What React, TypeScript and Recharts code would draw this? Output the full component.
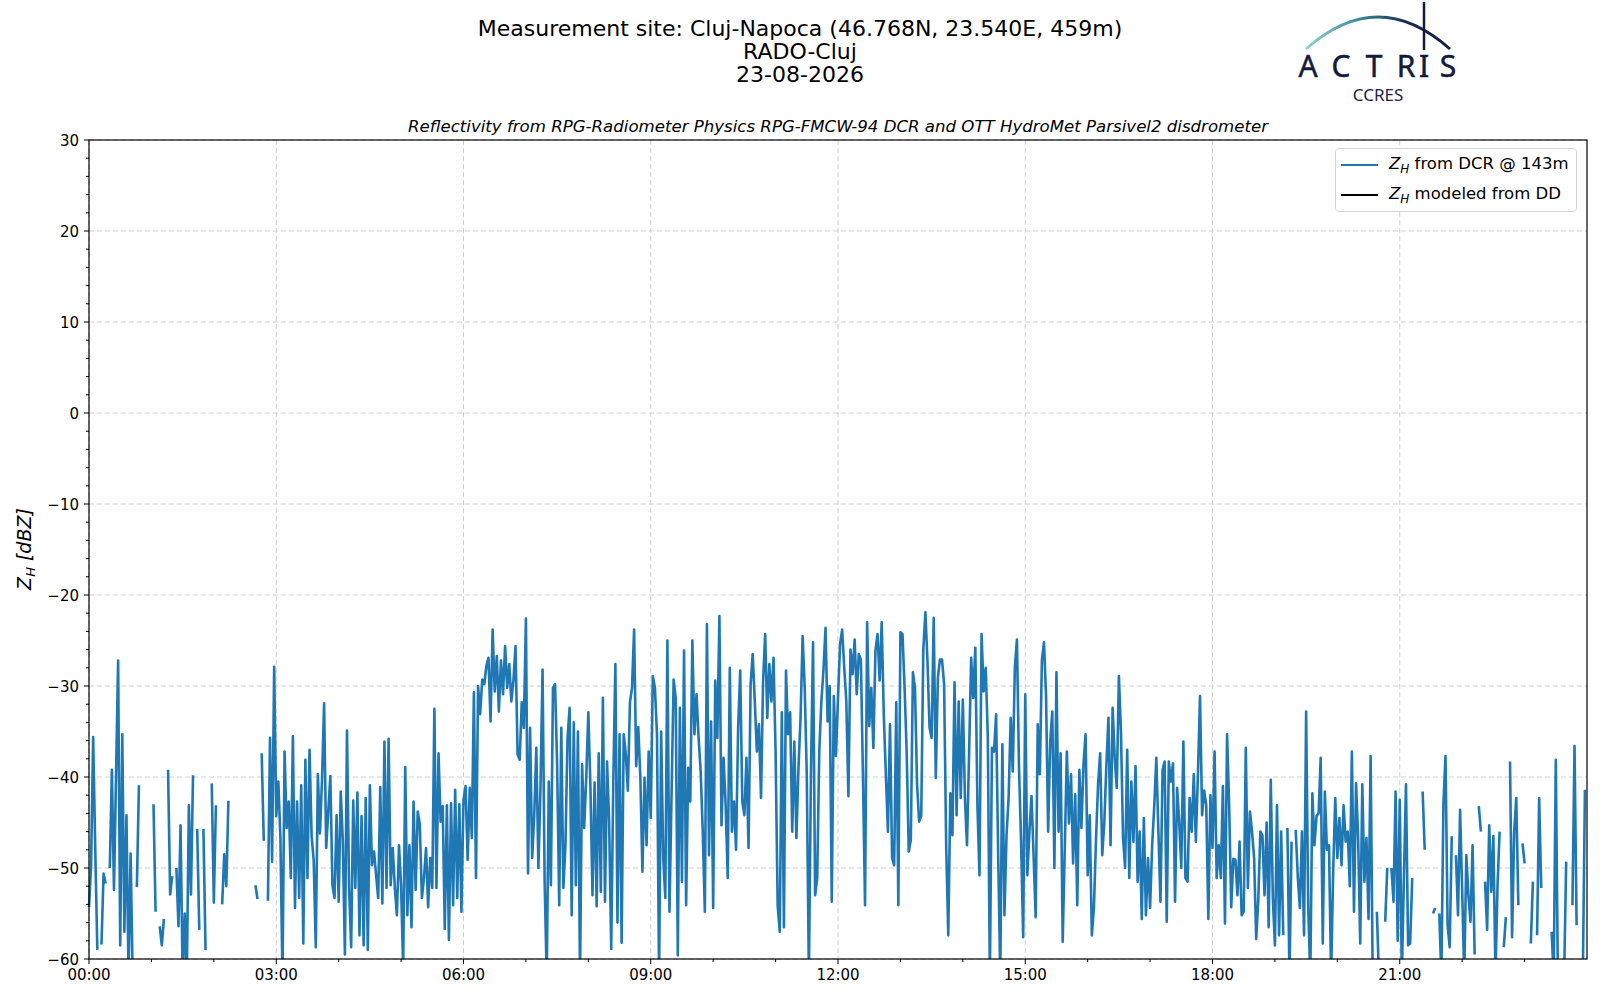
import { LineChart, Line, XAxis, YAxis, CartesianGrid } from 'recharts';

// Radar reflectivity at 143 m, one sample every 2 minutes, null = no echo
const STEP_MIN = 2;

const zh00_03 = [
  -54.3, -49.7, -35.6, -47.9, -59, null, -58.4, -50.6, -51.7, null, -50, -39.2, -52.4, -39.8, -27.2, -58.5, -35.3, -57, -44.2, -62, -48.4, -62, null, -52.1, -40.9, null, null, null, null, null,
  null, -43, -54.8, null, -56.4, -58.5, -55.6, null, -39.2, -52.9, -50.9, null, -50, -56.4, -45.3, -62, -55, -62, -43.1, -52.9, -39.8, null, -45.7, -56.8, null, -45.7, -59, null, null, -40.7,
  -53.8, -43.1, null, null, -54, -48.5, -52, -42.6, null, null, null, null, null, null, null, null, null, null, null, null, -51.9, -53.4, null, -37.4, -47, null, -53.6, -35.7, -49.3, -27.9,
];
const zh03_06 = [
  -44.3, -40.5, -46.7, -62, -37.2, -45.6, -42.7, -51.1, -35.5, -54.4, -42.7, -53.3, -40.9, -58.3, -38.1, -51.1, -37, -46.5, -49.2, -58.7, -39.7, -46.2, -40.3, -31.9, -47.8, -43.8, -39.9, -51.9, -53.3, -44.2,
  -53.7, -41.6, -47.1, -59.5, -34.9, -52.2, -58.7, -42.6, -52.2, -41.7, -57.4, -44.3, -58.5, -42.3, -59, -40.9, -49.7, -48.2, -50.8, -53.3, -41.1, -53.9, -36.1, -52.2, -35.8, -51.9, -47.8, -52.2, -55.2, -47.5,
  -51.9, -61, -38.9, -55.2, -47.5, -56.5, -42.7, -52.4, -43.8, -45.2, -53.3, -51.1, -47.8, -54.3, -48.9, -52.2, -32.5, -52.2, -37.4, -44.9, -43.2, -56.7, -43.1, -57.9, -42.9, -54.1, -41.4, -53.3, -43, -54.8,
];
const zh06_09 = [
  -42.5, -41, -49.1, -41.2, -46.7, -30.7, -51.1, -30, -33.1, -29.3, -29.8, -27.8, -26.9, -33.9, -23.8, -30.6, -26.7, -32.8, -27.2, -30.9, -25.6, -30.2, -27.6, -31.7, -29.4, -25.6, -37.5, -38.1, -31.8, -34.6,
  -22.6, -50.6, -34.6, -48.9, -44.2, -36.8, -50, -41.2, -28.2, -51.5, -62, -40.5, -51.9, -30.2, -29.8, -38.6, -54.1, -34.6, -52.2, -47.5, -35.7, -32.4, -55.2, -34, -51.9, -35, -62, -38.6, -45.6, -40,
  -32.9, -41, -53, -40.6, -54.2, -37.4, -52.6, -31.3, -53.7, -38.3, -45, -58.9, -40.5, -27.6, -56, -35.3, -58.2, -35.3, -37.5, -41.5, -31.8, -30.2, -23.8, -38.8, -34.5, -40, -50.4, -40.1, -47.5, -37.2,
];
const zh09_12 = [
  -44.5, -28.9, -30.2, -35.3, -62, -35, -48.9, -53.3, -25, -54.8, -41.9, -29.3, -31.3, -59.6, -32.4, -51.5, -26.1, -54.1, -39, -42.7, -25, -35.3, -30.9, -35.7, -39.4, -46, -54.8, -23.2, -48.6, -33.9,
  -54.4, -29.4, -35.7, -22.3, -45.3, -37.9, -43.1, -51.1, -28, -46, -42.7, -48, -34.6, -28.3, -42.7, -44.2, -37.9, -47.8, -29.8, -26.5, -31.7, -37.2, -34.2, -42.3, -29.4, -24.3, -33.5, -27.6, -31.7, -26.9,
  -37.2, -54.1, -57, -32.9, -56.5, -28.3, -35.3, -32.9, -46, -36.1, -46.7, -39, -33.5, -24.5, -30.2, -39.9, -62, -39.7, -25.2, -53, -51.1, -37.2, -31.7, -28.3, -23.6, -33.9, -30, -53.7, -31.1, -37.7,
];
const zh12_15 = [
  -31.3, -25.4, -23.8, -28, -31.7, -42.1, -26, -28.7, -24.9, -30.9, -26.5, -27.1, -40, -54.1, -23, -34.4, -30.2, -36.8, -26.1, -24.3, -29.4, -23, -33.1, -39.7, -46, -34.2, -48.9, -49.7, -31.8, -54.1,
  -24.1, -24.3, -30.2, -37.2, -48.2, -46.9, -28.5, -30.2, -40.8, -44.9, -44.3, -26, -21.9, -27.2, -34.6, -35.7, -22.5, -40.1, -29.1, -27.1, -27.1, -29.8, -47.6, -57.4, -41.8, -46.4, -29.6, -44.2, -31.7, -42.3,
  -31.5, -42.3, -47.5, -37.5, -26.9, -31.3, -25.8, -43, -50.8, -24.3, -30.6, -28, -35.5, -62, -36.8, -37.2, -33.1, -48.8, -62, -36.4, -55.2, -46.4, -42.3, -33.5, -39.4, -28, -24.9, -39, -47.1, -57.6,
];
const zh15_18 = [
  -30.9, -50.8, -46, -42.1, -48.6, -55.4, -34.2, -39.7, -27.2, -25.2, -31.1, -46, -36.1, -32.8, -50, -28.5, -46, -37.4, -58.1, -47.8, -37.2, -45.1, -39.7, -49.5, -41.9, -54.1, -39.2, -45.6, -38.6, -35.3,
  -50.8, -44.2, -57.4, -54.4, -46.9, -40.8, -37.4, -48.6, -45, -38.6, -33.5, -47.5, -32.4, -37.9, -41.2, -28.9, -35, -46.7, -50, -37, -51.1, -40.5, -47.1, -38.8, -51.5, -46, -55.6, -44.5, -55.2, -48.9,
  -54.4, -47.5, -43.2, -37.9, -46, -53.7, -39.2, -38.3, -55.9, -38.3, -40.5, -38.5, -53.7, -41.2, -44.9, -50, -36.1, -51.1, -51.5, -42.3, -46, -39.7, -47.1, -39.7, -31.1, -44.2, -41.5, -43.1, -55.6, -42,
];
const zh18_21 = [
  -47.8, -37.2, -51.1, -47.5, -51.1, -41, -56.1, -35.3, -43.1, -54.3, -49, -49.1, -53, -47.1, -55.2, -54.8, -36.8, -52.2, -43.8, -46, -48.9, -57.8, -53.5, -46, -46.4, -53, -45, -56.5, -40.3, -53.3,
  -58.5, -43.1, -57.4, -46, -57.4, null, -45.6, -62, -47.1, null, -45.8, -51, -54.4, -46, -57.4, -32.8, -54.1, -62, -41.8, -47.5, -44.3, -44, -37.9, -58.3, -41.6, -48, -47.5, -62, -50.4, -42.3,
  -48.9, -44.5, -49.7, -43.1, -47.1, -46, -52, -37.2, -54.8, -40.7, -46.7, -58.3, -40.8, -51.5, -46.7, -55.6, -37.7, -62, null, -54.8, -62, null, null, -55.9, -50, null, -50, -53.7, -41.6, -58,
];
const zh21_24 = [
  -42.5, -62, -51.1, -40.8, -58.5, -58.3, -51.1, null, null, null, null, -41.6, -48, null, null, null, -55, -54.4, null, -55, -62, -42.9, -37.7, -56.3, -58.7, -46.5, null, -48.6, -55.2, -43.6,
  -52.4, -62, -48.6, -53, -55.9, -47.5, -59.5, null, -43.2, -46, null, -51.5, -56.8, -45.3, -52.6, -46.5, -62, -51.9, -46, null, -58.7, -55.4, null, -38.3, -57.6, -46, -42.3, -54.1, null, -47.3,
  -49.5, null, null, -58.3, -51.5, null, -57.4, -42.3, -52.2, null, null, null, null, -57, -62, -38.1, -62, null, null, -62, -49.3, null, null, -54.1, -36.6, -56.3, null, null, -62, -41.4,
];

const BLOCKS = [zh00_03, zh03_06, zh06_09, zh09_12, zh12_15, zh15_18, zh18_21, zh21_24];

const X_DOMAIN = [0, 1440];
const Y_DOMAIN = [-60, 30];
const X_TICKS = [0, 60, 120, 180, 240, 300, 360, 420, 480, 540, 600, 660, 720, 780, 840, 900, 960, 1020, 1080, 1140, 1200, 1260, 1320, 1380];
const X_MAJOR = [0, 180, 360, 540, 720, 900, 1080, 1260];
const Y_MAJOR = [-60, -50, -40, -30, -20, -10, 0, 10, 20, 30];
const Y_TICKS = [-60, -58, -56, -54, -52, -50, -48, -46, -44, -42, -40, -38, -36, -34, -32, -30, -28, -26, -24, -22, -20, -18, -16, -14, -12, -10, -8, -6, -4, -2, 0, 2, 4, 6, 8, 10, 12, 14, 16, 18, 20, 22, 24, 26, 28, 30];

const SERIES = [
  { key: 'dcr', label: 'from DCR @ 143m', color: '#1f77b4' },
  { key: 'dd', label: 'modeled from DD', color: '#000000' },
];

const rows = BLOCKS.flatMap((block, b) =>
  block.map((v, i) => ({ t: b * 180 + i * STEP_MIN, dcr: v }))
);

const FONT = '"DejaVu Sans", sans-serif';
const PLOT = { left: 89, top: 140, right: 1587, bottom: 959 };

// grid line pixel positions (same linear mapping as the axes)
const gridX = X_MAJOR.map((v) => PLOT.left + ((v - X_DOMAIN[0]) / (X_DOMAIN[1] - X_DOMAIN[0])) * (PLOT.right - PLOT.left));
const gridY = Y_MAJOR.map((v) => PLOT.top + ((Y_DOMAIN[1] - v) / (Y_DOMAIN[1] - Y_DOMAIN[0])) * (PLOT.bottom - PLOT.top));

const fmtY = (v: number) => (v < 0 ? '\u2212' + Math.abs(v) : String(v));
const fmtX = (m: number) => String(Math.floor(m / 60)).padStart(2, '0') + ':00';

function XTick(props: any) {
  const { x, payload } = props;
  const major = X_MAJOR.includes(payload.value);
  const len = major ? 5 : 3;
  return (
    <g>
      <line x1={x} x2={x} y1={PLOT.bottom} y2={PLOT.bottom + len} stroke="#000" strokeWidth={1} />
      {major && (
        <text x={x} y={PLOT.bottom + 21} textAnchor="middle" fontSize={15} fontFamily={FONT} fill="#000">
          {fmtX(payload.value)}
        </text>
      )}
    </g>
  );
}

function YTick(props: any) {
  const { y, payload } = props;
  const major = payload.value % 10 === 0;
  const len = major ? 5 : 3;
  return (
    <g>
      <line x1={PLOT.left - len} x2={PLOT.left} y1={y} y2={y} stroke="#000" strokeWidth={1} />
      {major && (
        <text x={PLOT.left - 10} y={y} dy={5.5} textAnchor="end" fontSize={15} fontFamily={FONT} fill="#000">
          {fmtY(payload.value)}
        </text>
      )}
    </g>
  );
}

function Logo() {
  return (
    <g>
      <defs>
        <linearGradient id="arcGrad" x1="0" y1="0" x2="1" y2="0">
          <stop offset="0%" stopColor="#8fd3cf" />
          <stop offset="35%" stopColor="#3f8f9c" />
          <stop offset="70%" stopColor="#1a2a55" />
          <stop offset="100%" stopColor="#141a3e" />
        </linearGradient>
      </defs>
      <path d="M1306,49 Q1378,-15 1450,49" fill="none" stroke="url(#arcGrad)" strokeWidth={3} />
      <line x1={1424} x2={1424} y1={2} y2={50} stroke="#141a3e" strokeWidth={2.5} />
      {['A', 'C', 'T', 'R', 'I', 'S'].map((ch, i) => (
        <text key={i} x={[1308, 1341, 1374, 1406, 1424, 1448][i]} y={77} textAnchor="middle"
          fontSize={30} fontWeight={400} fontFamily='"Noto Sans", sans-serif' fill="#141a3e"
          stroke="#141a3e" strokeWidth={0.5}>{ch}</text>
      ))}
      <text x={1378} y={101} textAnchor="middle" fontSize={17} fontFamily='"Noto Sans", sans-serif' fill="#1d2246">CCRES</text>
    </g>
  );
}

export default function App() {
  return (
    <div style={{ position: 'fixed', left: 0, top: 0, width: 1600, height: 1000, background: '#fff' }}>
      <LineChart width={1600} height={1000} data={rows} margin={{ top: 140, right: 13, bottom: 0, left: 0 }}>
        <CartesianGrid stroke="#d0d0d0" strokeDasharray="5 3" horizontalPoints={gridY} verticalPoints={gridX} />
        <XAxis dataKey="t" type="number" domain={X_DOMAIN} ticks={X_TICKS} interval={0}
          height={41} tickLine={false} axisLine={false} tick={(p: any) => <XTick {...p} />} />
        <YAxis type="number" domain={Y_DOMAIN} ticks={Y_TICKS} interval={0} allowDataOverflow
          width={89} tickLine={false} axisLine={false} tick={(p: any) => <YTick {...p} />} />
        {SERIES.map((s) => (
          <Line key={s.key} dataKey={s.key} type="linear" stroke={s.color} strokeWidth={2.6}
            strokeLinejoin="round" dot={false} activeDot={false} connectNulls={false} isAnimationActive={false} />
        ))}
      </LineChart>

      <svg width={1600} height={1000} style={{ position: 'absolute', left: 0, top: 0, pointerEvents: 'none' }}>
        <rect x={PLOT.left} y={PLOT.top} width={PLOT.right - PLOT.left} height={PLOT.bottom - PLOT.top}
          fill="none" stroke="#000" strokeWidth={1.2} />
        <g fontFamily={FONT} fill="#000" textAnchor="middle" fontSize={22}>
          <text x={800} y={36}>Measurement site: Cluj-Napoca (46.768N, 23.540E, 459m)</text>
          <text x={800} y={59}>RADO-Cluj</text>
          <text x={800} y={82}>23-08-2026</text>
        </g>
        <text x={838} y={132} textAnchor="middle" fontSize={16.6} fontStyle="italic" fontFamily={FONT} fill="#000">
          Reflectivity from RPG-Radiometer Physics RPG-FMCW-94 DCR and OTT HydroMet Parsivel2 disdrometer
        </text>
        <text transform="translate(31,549) rotate(-90)" textAnchor="middle" fontSize={19} fontStyle="italic" fontFamily={FONT} fill="#000">
          Z<tspan dy={4} fontSize={13}>H</tspan><tspan dy={-4}> [dBZ]</tspan>
        </text>
        <Logo />
      </svg>

      <div style={{
        position: 'absolute', left: 1335, top: 148, width: 242, height: 64, boxSizing: 'border-box',
        border: '1px solid #d6d6d6', borderRadius: 4, background: 'rgba(255,255,255,0.8)', fontFamily: FONT, fontSize: 16.5,
      }}>
        {SERIES.map((s, i) => (
          <div key={s.key} style={{ position: 'absolute', left: 0, top: 5 + i * 30, height: 22, display: 'flex', alignItems: 'center' }}>
            <div style={{ width: 37, height: 2.5, background: s.color, marginLeft: 5, marginRight: 11 }} />
            <span style={{ whiteSpace: 'nowrap' }}>
              <i>Z</i><sub style={{ fontSize: 12, fontStyle: 'italic' }}>H</sub> {s.label}
            </span>
          </div>
        ))}
      </div>
    </div>
  );
}
